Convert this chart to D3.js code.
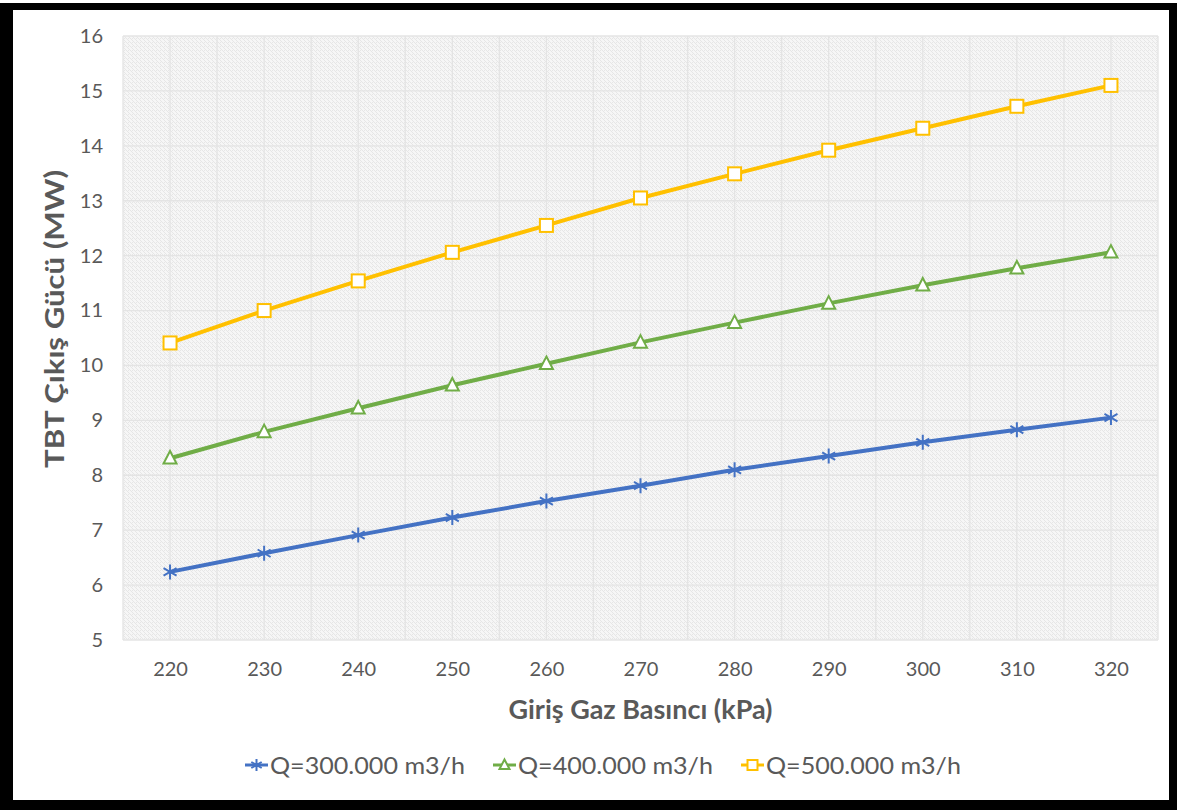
<!DOCTYPE html>
<html><head><meta charset="utf-8">
<script src="https://cdn.jsdelivr.net/npm/d3@7"></script>
<style>
html,body{margin:0;padding:0;background:#fff;}
svg{display:block;}
text{font-family:Lato,"Open Sans",sans-serif;}
</style></head>
<body>
<svg id="c" width="1177" height="810"></svg>
<script>
const categories = [220, 230, 240, 250, 260, 270, 280, 290, 300, 310, 320];
const seriesNames = ["Q=300.000 m3/h", "Q=400.000 m3/h", "Q=500.000 m3/h"];
const q300 = [6.24, 6.58, 6.91, 7.23, 7.53, 7.81, 8.10, 8.35, 8.60, 8.83, 9.05];
const q400 = [8.31, 8.79, 9.22, 9.64, 10.03, 10.42, 10.78, 11.13, 11.46, 11.77, 12.06];
const q500 = [10.41, 11.00, 11.54, 12.06, 12.55, 13.05, 13.49, 13.92, 14.32, 14.72, 15.10];
const yTicks = [5, 6, 7, 8, 9, 10, 11, 12, 13, 14, 15, 16];
const xTitle = "Giriş Gaz Basıncı (kPa)";
const yTitle = "TBT Çıkış Gücü (MW)";

const colors = ["#4472C4", "#70AD47", "#FFC000"];
const markers = ["star", "triangle", "square"];
const series = [q300, q400, q500].map((v, i) => ({name: seriesNames[i], values: v, color: colors[i], marker: markers[i]}));

const svg = d3.select("#c");
const W = 1177, H = 810;
// frame
svg.append("rect").attr("x", 0).attr("y", 3).attr("width", W).attr("height", H - 3).attr("fill", "#000");
svg.append("rect").attr("x", 13).attr("y", 10).attr("width", 1156).attr("height", 790).attr("fill", "#fff");

const L = 123, R = 1158, T = 36, B = 640;
const x = d3.scalePoint().domain(categories).range([L, R]).padding(0.5);
const y = d3.scaleLinear().domain([5, 16]).range([B, T]);

// hatched background
const defs = svg.append("defs");
const pat = defs.append("pattern").attr("id", "hatch").attr("patternUnits", "userSpaceOnUse")
  .attr("width", 4).attr("height", 4);
pat.append("rect").attr("width", 4).attr("height", 4).attr("fill", "#f6f6f6");
pat.append("path").attr("d", "M-1,1 l2,2 M0,0 l4,4 M3,-1 l2,2").attr("stroke", "#e6e6e6").attr("stroke-width", 1);
svg.append("rect").attr("x", L).attr("y", T).attr("width", R - L).attr("height", B - T).attr("fill", "url(#hatch)");

// gridlines
const g = svg.append("g");
const step = x.step();
const vx = [];
categories.forEach((c, i) => { if (i === 0) vx.push(x(c) - step / 2); vx.push(x(c)); vx.push(x(c) + step / 2); });
g.selectAll(".vg").data(vx).enter().append("line")
  .attr("x1", d => d).attr("x2", d => d).attr("y1", T).attr("y2", B)
  .attr("stroke", "#e4e4e4").attr("stroke-width", 1.3);
g.selectAll(".hg").data(yTicks).enter().append("line")
  .attr("x1", L).attr("x2", R).attr("y1", d => y(d)).attr("y2", d => y(d))
  .attr("stroke", "#e4e4e4").attr("stroke-width", 1.3);

// axes
const yAxis = svg.append("g").attr("transform", `translate(${L},0)`)
  .call(d3.axisLeft(y).tickValues(yTicks).tickSize(0).tickPadding(20));
yAxis.select(".domain").remove();
yAxis.selectAll("text").attr("font-size", 20).attr("fill", "#595959").attr("font-family", "Lato,'Open Sans',sans-serif");

const xAxis = svg.append("g").attr("transform", `translate(0,${B})`)
  .call(d3.axisBottom(x).tickSize(0).tickPadding(22));
xAxis.select(".domain").remove();
xAxis.selectAll("text").attr("font-size", 20).attr("fill", "#595959").attr("font-family", "Lato,'Open Sans',sans-serif");

// titles
svg.append("text").attr("x", (L + R) / 2).attr("y", 719).attr("text-anchor", "middle")
  .attr("font-size", 27).attr("font-weight", "bold").attr("fill", "#595959")
  .attr("textLength", 264).attr("lengthAdjust", "spacingAndGlyphs").text(xTitle);
svg.append("text").attr("transform", `translate(64,319) rotate(-90)`).attr("text-anchor", "middle")
  .attr("font-size", 26).attr("font-weight", "bold").attr("fill", "#595959")
  .attr("textLength", 298).attr("lengthAdjust", "spacingAndGlyphs").text(yTitle);

// marker drawing
function drawMarker(sel, type, color, size) {
  if (type === "square") {
    sel.append("rect").attr("x", -size / 2).attr("y", -size / 2).attr("width", size).attr("height", size)
      .attr("fill", "#fff").attr("stroke", color).attr("stroke-width", 2);
  } else if (type === "triangle") {
    const h = size * 0.9;
    sel.append("path").attr("d", `M0,${-h * 0.62} L${size / 2},${h * 0.45} L${-size / 2},${h * 0.45} Z`)
      .attr("fill", "#fff").attr("stroke", color).attr("stroke-width", 2);
  } else {
    const r = size / 2;
    const p = [];
    for (let k = 0; k < 3; k++) {
      const a = Math.PI / 6 + k * Math.PI / 3 + Math.PI / 3;
      p.push(`M${-r * Math.cos(a)},${-r * Math.sin(a)} L${r * Math.cos(a)},${r * Math.sin(a)}`);
    }
    p.push(`M0,${-r} L0,${r}`);
    sel.append("path").attr("d", p.join(" ")).attr("stroke", color).attr("stroke-width", 2).attr("fill", "none");
  }
}

const line = d3.line().x((d, i) => x(categories[i])).y(d => y(d));
series.forEach(s => {
  svg.append("path").datum(s.values).attr("d", line).attr("fill", "none")
    .attr("stroke", s.color).attr("stroke-width", 4).attr("stroke-linejoin", "round");
  const mg = svg.append("g");
  s.values.forEach((v, i) => {
    const m = mg.append("g").attr("transform", `translate(${x(categories[i])},${y(v)})`);
    drawMarker(m, s.marker, s.color, s.marker === "star" ? 15 : 13);
  });
});

// legend
const legendX = [245, 493, 741];
const ly = 765;
series.forEach((s, i) => {
  const lg = svg.append("g").attr("transform", `translate(${legendX[i]},${ly})`);
  lg.append("line").attr("x1", 0).attr("x2", 23).attr("y1", 0).attr("y2", 0).attr("stroke", s.color).attr("stroke-width", 3);
  const m = lg.append("g").attr("transform", "translate(11.5,0)");
  drawMarker(m, s.marker, s.color, s.marker === "star" ? 12 : 10);
  lg.append("text").attr("x", 25).attr("y", 0).attr("dy", "0.36em").attr("font-size", 24)
    .attr("textLength", 195).attr("lengthAdjust", "spacingAndGlyphs")
    .attr("fill", "#595959").text(s.name);
});
</script>
</body></html>
